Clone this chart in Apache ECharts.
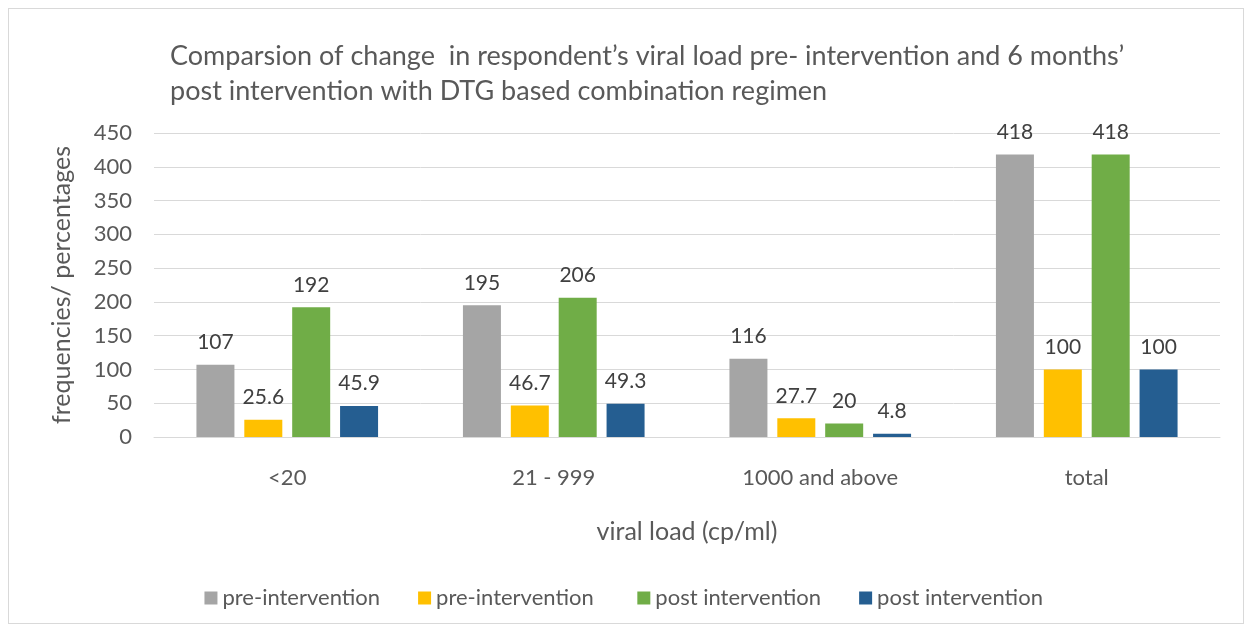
<!DOCTYPE html>
<html>
<head>
<meta charset="utf-8">
<script src="https://cdn.jsdelivr.net/npm/echarts@6/dist/echarts.min.js"></script>
<style>
html, body { margin: 0; padding: 0; background: #fff; }
#frame { position: absolute; left: 8px; top: 8px; width: 1236px; height: 616px; border: 1px solid #d9d9d9; box-sizing: border-box; }
#main { width: 1253px; height: 634px; }
</style>
</head>
<body>
<div id="frame"></div>
<div id="main"></div>
<script>
var categories = ['<20', '21 - 999', '1000 and above', 'total'];
var preFreq = [107, 195, 116, 418];
var prePct = [25.6, 46.7, 27.7, 100];
var postFreq = [192, 206, 20, 418];
var postPct = [45.9, 49.3, 4.8, 100];
var yTicks = [0, 450, 50];

var dom = document.getElementById("main");
var myChart = echarts.init(dom);
var font = 'Lato, "Open Sans", sans-serif';
var option = null;

function bar(name, data, color) {
	return {
		name: name,
		type: 'bar',
		data: data,
		barWidth: 38,
		barGap: '26%',
		itemStyle: { color: color },
		label: {
			show: true,
			position: 'top',
			distance: 12,
			color: '#404040',
			fontSize: 21,
			fontFamily: font
		}
	};
}

option = {
	animation: false,
	textStyle: { fontFamily: font },
	title: {
		text: 'Comparsion of change  in respondent\u2019s viral load pre- intervention and 6 months\u2019\npost intervention with DTG based combination regimen',
		left: 165,
		top: 34,
		textStyle: {
			color: '#595959',
			fontSize: 27,
			fontWeight: 'normal',
			lineHeight: 35,
			fontFamily: font
		}
	},
	legend: {
		bottom: 20,
		left: 'center',
		itemWidth: 13,
		itemHeight: 13,
		itemGap: 38,
		icon: 'rect',
		textStyle: { color: '#595959', fontSize: 22, fontFamily: font },
		data: [
			{ name: 'pre-intervention', itemStyle: { color: '#a5a5a5' } },
			{ name: 'pre-intervention ', itemStyle: { color: '#ffc000' } },
			{ name: 'post intervention', itemStyle: { color: '#70ad47' } },
			{ name: 'post intervention ', itemStyle: { color: '#255e91' } }
		]
	},
	grid: {
		left: 154,
		right: 33,
		top: 133,
		bottom: 197
	},
	xAxis: {
		type: 'category',
		data: categories,
		name: 'viral load (cp/ml)',
		nameLocation: 'middle',
		nameGap: 82,
		nameTextStyle: { color: '#595959', fontSize: 25, fontFamily: font },
		axisLine: { lineStyle: { color: '#d9d9d9', width: 1 } },
		axisTick: { show: false },
		axisLabel: { color: '#595959', fontSize: 22, margin: 30, fontFamily: font }
	},
	yAxis: {
		type: 'value',
		min: yTicks[0],
		max: yTicks[1],
		interval: yTicks[2],
		name: 'frequencies/ percentages',
		nameLocation: 'middle',
		nameGap: 80,
		nameTextStyle: { color: '#595959', fontSize: 25, fontFamily: font },
		axisLine: { show: false },
		axisTick: { show: false },
		splitLine: { lineStyle: { color: '#d9d9d9', width: 1 } },
		axisLabel: { color: '#595959', fontSize: 22, margin: 22, fontFamily: font }
	},
	series: [
		bar('pre-intervention', preFreq, '#a5a5a5'),
		bar('pre-intervention ', prePct, '#ffc000'),
		bar('post intervention', postFreq, '#70ad47'),
		bar('post intervention ', postPct, '#255e91')
	]
};

if (option && typeof option === "object") {
	myChart.setOption(option, true);
}
</script>
</body>
</html>
